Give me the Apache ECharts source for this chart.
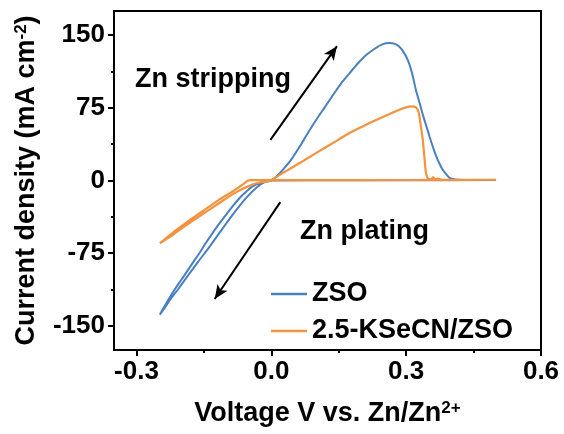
<!DOCTYPE html>
<html>
<head>
<meta charset="utf-8">
<script src="https://cdn.jsdelivr.net/npm/echarts@6/dist/echarts.min.js"></script>
<style>
  html, body { margin: 0; padding: 0; background: #fff; }
  #chart { width: 564px; height: 434px; }
</style>
</head>
<body>
<div id="chart"></div>
<script>
// ZSO: scan from 0.5 V down to -0.25 V and back
const zsoV = [0.5, 0.3, 0.1, 0.0, -0.011, -0.025, -0.041, -0.055, -0.07, -0.085, -0.1, -0.115, -0.13, -0.145, -0.159, -0.174, -0.189, -0.204, -0.219, -0.234, -0.248,
  -0.238, -0.222, -0.207, -0.19, -0.163, -0.136, -0.109, -0.082, -0.056, -0.032, -0.014, 0.0,
  0.013, 0.026, 0.045, 0.063, 0.08, 0.1, 0.118, 0.137, 0.155, 0.174, 0.192, 0.211, 0.23, 0.248, 0.263, 0.275, 0.285, 0.295, 0.304, 0.313, 0.322, 0.33, 0.337, 0.345, 0.352, 0.36, 0.367, 0.374, 0.381, 0.39, 0.396, 0.404, 0.415, 0.45, 0.5]
const zsoI = [0.5, 0.3, 0.2, 0, -0.7, -2.5, -5.9, -11, -17.8, -26, -34.9, -44, -53.8, -64, -74.3, -84.5, -94.9, -105, -115.4, -127, -138.4,
  -132, -121, -112, -101, -84, -67.5, -50, -33, -18, -7, -1.5, 0,
  5, 11.3, 22, 35, 48, 62.7, 75, 88, 100, 110.7, 120.5, 129.5, 136, 140.8, 142, 141, 138, 132, 124, 111, 93, 80, 68, 56, 45.5, 34, 25, 17.5, 11.3, 6, 3, 1.5, 0.8, 0.5, 0.5]

// 2.5-KSeCN/ZSO
const kscV = [0.5, 0.3, 0.1, -0.045, -0.052, -0.06, -0.085, -0.115, -0.152, -0.189, -0.219, -0.248,
  -0.235, -0.219, -0.189, -0.152, -0.115, -0.078, -0.041, -0.02, -0.004,
  0.026, 0.063, 0.1, 0.137, 0.174, 0.211, 0.248, 0.285, 0.3, 0.311, 0.322, 0.328, 0.333, 0.337, 0.341, 0.344, 0.348, 0.355, 0.36, 0.365, 0.37, 0.38, 0.5]
const kscI = [0.8, 0.5, 0.3, 0.3, 0, -3, -11, -19.5, -31.5, -43.5, -53.8, -65,
  -61, -56, -46, -34.5, -23, -12, -4, -1.5, -0.5,
  7.9, 18, 28.5, 38.7, 49, 57.6, 65.5, 73, 75.5, 76.5, 75.5, 70, 55, 42, 22, 8, 2.5, 1, 3.5, 1, 2, 0.5, 0.8]

const seriesNames = ['ZSO', '2.5-KSeCN/ZSO']
const xTicks = [-0.3, 0, 0.3, 0.6]
const xMinor = [-0.15, 0.15, 0.45]
const yTicks = [-150, -75, 0, 75, 150]
const yMinor = [-112.5, -37.5, 37.5, 112.5]

// arrows [from, to] in data units
const stripArrow = [[-0.002, 42], [0.146, 138.7]]
const plateArrow = [[0.02, -22.3], [-0.126, -122.3]]

const font = 'Liberation Sans, Arial, sans-serif'
const blue = '#4a80c2'
const orange = '#f5923e'

function pairs(xs, ys) {
  return xs.map((x, i) => [x, ys[i]])
}

const chart = echarts.init(document.getElementById('chart'))

const supStyle = { fontSize: 17, fontWeight: 'bold', fontFamily: font, color: '#000', verticalAlign: 'top', lineHeight: 16 }

chart.setOption({
  backgroundColor: '#fff',
  animation: false,
  grid: {
    left: 114, right: 23, top: 11, bottom: 84,
    show: true, borderColor: '#000', borderWidth: 2
  },
  legend: {
    orient: 'vertical',
    left: 266,
    top: 274,
    icon: 'rect',
    itemWidth: 36,
    itemHeight: 2.5,
    itemGap: 7,
    data: seriesNames,
    textStyle: { fontSize: 27, fontWeight: 'bold', fontFamily: font, color: '#000', lineHeight: 30 }
  },
  xAxis: [{
    type: 'value', min: -0.35, max: 0.6, position: 'bottom',
    name: 'Voltage V vs. Zn/Zn{sup|2+}',
    nameLocation: 'middle', nameGap: 50,
    nameTextStyle: {
      fontSize: 27, fontWeight: 'bold', fontFamily: font, color: '#000',
      rich: { sup: supStyle }
    },
    axisLine: { show: true, onZero: false, lineStyle: { color: '#000', width: 2 } },
    axisTick: { show: true, length: 6, customValues: xTicks, lineStyle: { color: '#000', width: 2 } },
    axisLabel: {
      customValues: xTicks, margin: 9,
      formatter: v => v.toFixed(1),
      fontSize: 26, fontWeight: 'bold', fontFamily: font, color: '#000'
    },
    splitLine: { show: false }
  }, {
    type: 'value', min: -0.35, max: 0.6, position: 'bottom',
    axisLine: { show: false, onZero: false },
    axisTick: { show: true, length: 3, customValues: xMinor, lineStyle: { color: '#000', width: 2 } },
    axisLabel: { show: false },
    splitLine: { show: false }
  }],
  yAxis: [{
    type: 'value', min: -175, max: 175, position: 'left',
    name: 'Current density (mA cm{sup|-2})',
    nameLocation: 'middle', nameGap: 74,
    nameTextStyle: {
      fontSize: 27, fontWeight: 'bold', fontFamily: font, color: '#000',
      rich: { sup: supStyle }
    },
    axisLine: { show: true, onZero: false, lineStyle: { color: '#000', width: 2 } },
    axisTick: { show: true, length: 6, customValues: yTicks, lineStyle: { color: '#000', width: 2 } },
    axisLabel: {
      customValues: yTicks, margin: 9,
      fontSize: 26, fontWeight: 'bold', fontFamily: font, color: '#000'
    },
    splitLine: { show: false }
  }, {
    type: 'value', min: -175, max: 175, position: 'left',
    axisLine: { show: false, onZero: false },
    axisTick: { show: true, length: 3, customValues: yMinor, lineStyle: { color: '#000', width: 2 } },
    axisLabel: { show: false },
    splitLine: { show: false }
  }],
  graphic: [{
    type: 'text', left: 135, top: 66,
    style: { text: 'Zn stripping', fontSize: 27, fontWeight: 'bold', fontFamily: font, fill: '#000', verticalAlign: 'middle' }
  }, {
    type: 'text', left: 300, top: 218,
    style: { text: 'Zn plating', fontSize: 27, fontWeight: 'bold', fontFamily: font, fill: '#000', verticalAlign: 'middle' }
  }],
  series: [{
    name: seriesNames[0],
    type: 'line',
    data: pairs(zsoV, zsoI),
    showSymbol: false,
    symbol: 'none',
    smooth: 0.25,
    color: blue,
    lineStyle: { width: 2, color: blue },
    z: 2,
    markLine: {
      silent: true,
      symbol: ['none', 'arrow'],
      symbolSize: [9, 14],
      label: { show: false },
      lineStyle: { color: '#000', width: 2, type: 'solid' },
      data: [
        [{ coord: stripArrow[0] }, { coord: stripArrow[1] }],
        [{ coord: plateArrow[0] }, { coord: plateArrow[1] }]
      ]
    }
  }, {
    name: seriesNames[1],
    type: 'line',
    data: pairs(kscV, kscI),
    showSymbol: false,
    symbol: 'none',
    smooth: 0.25,
    color: orange,
    lineStyle: { width: 2.2, color: orange },
    z: 3
  }]
})
</script>
</body>
</html>
